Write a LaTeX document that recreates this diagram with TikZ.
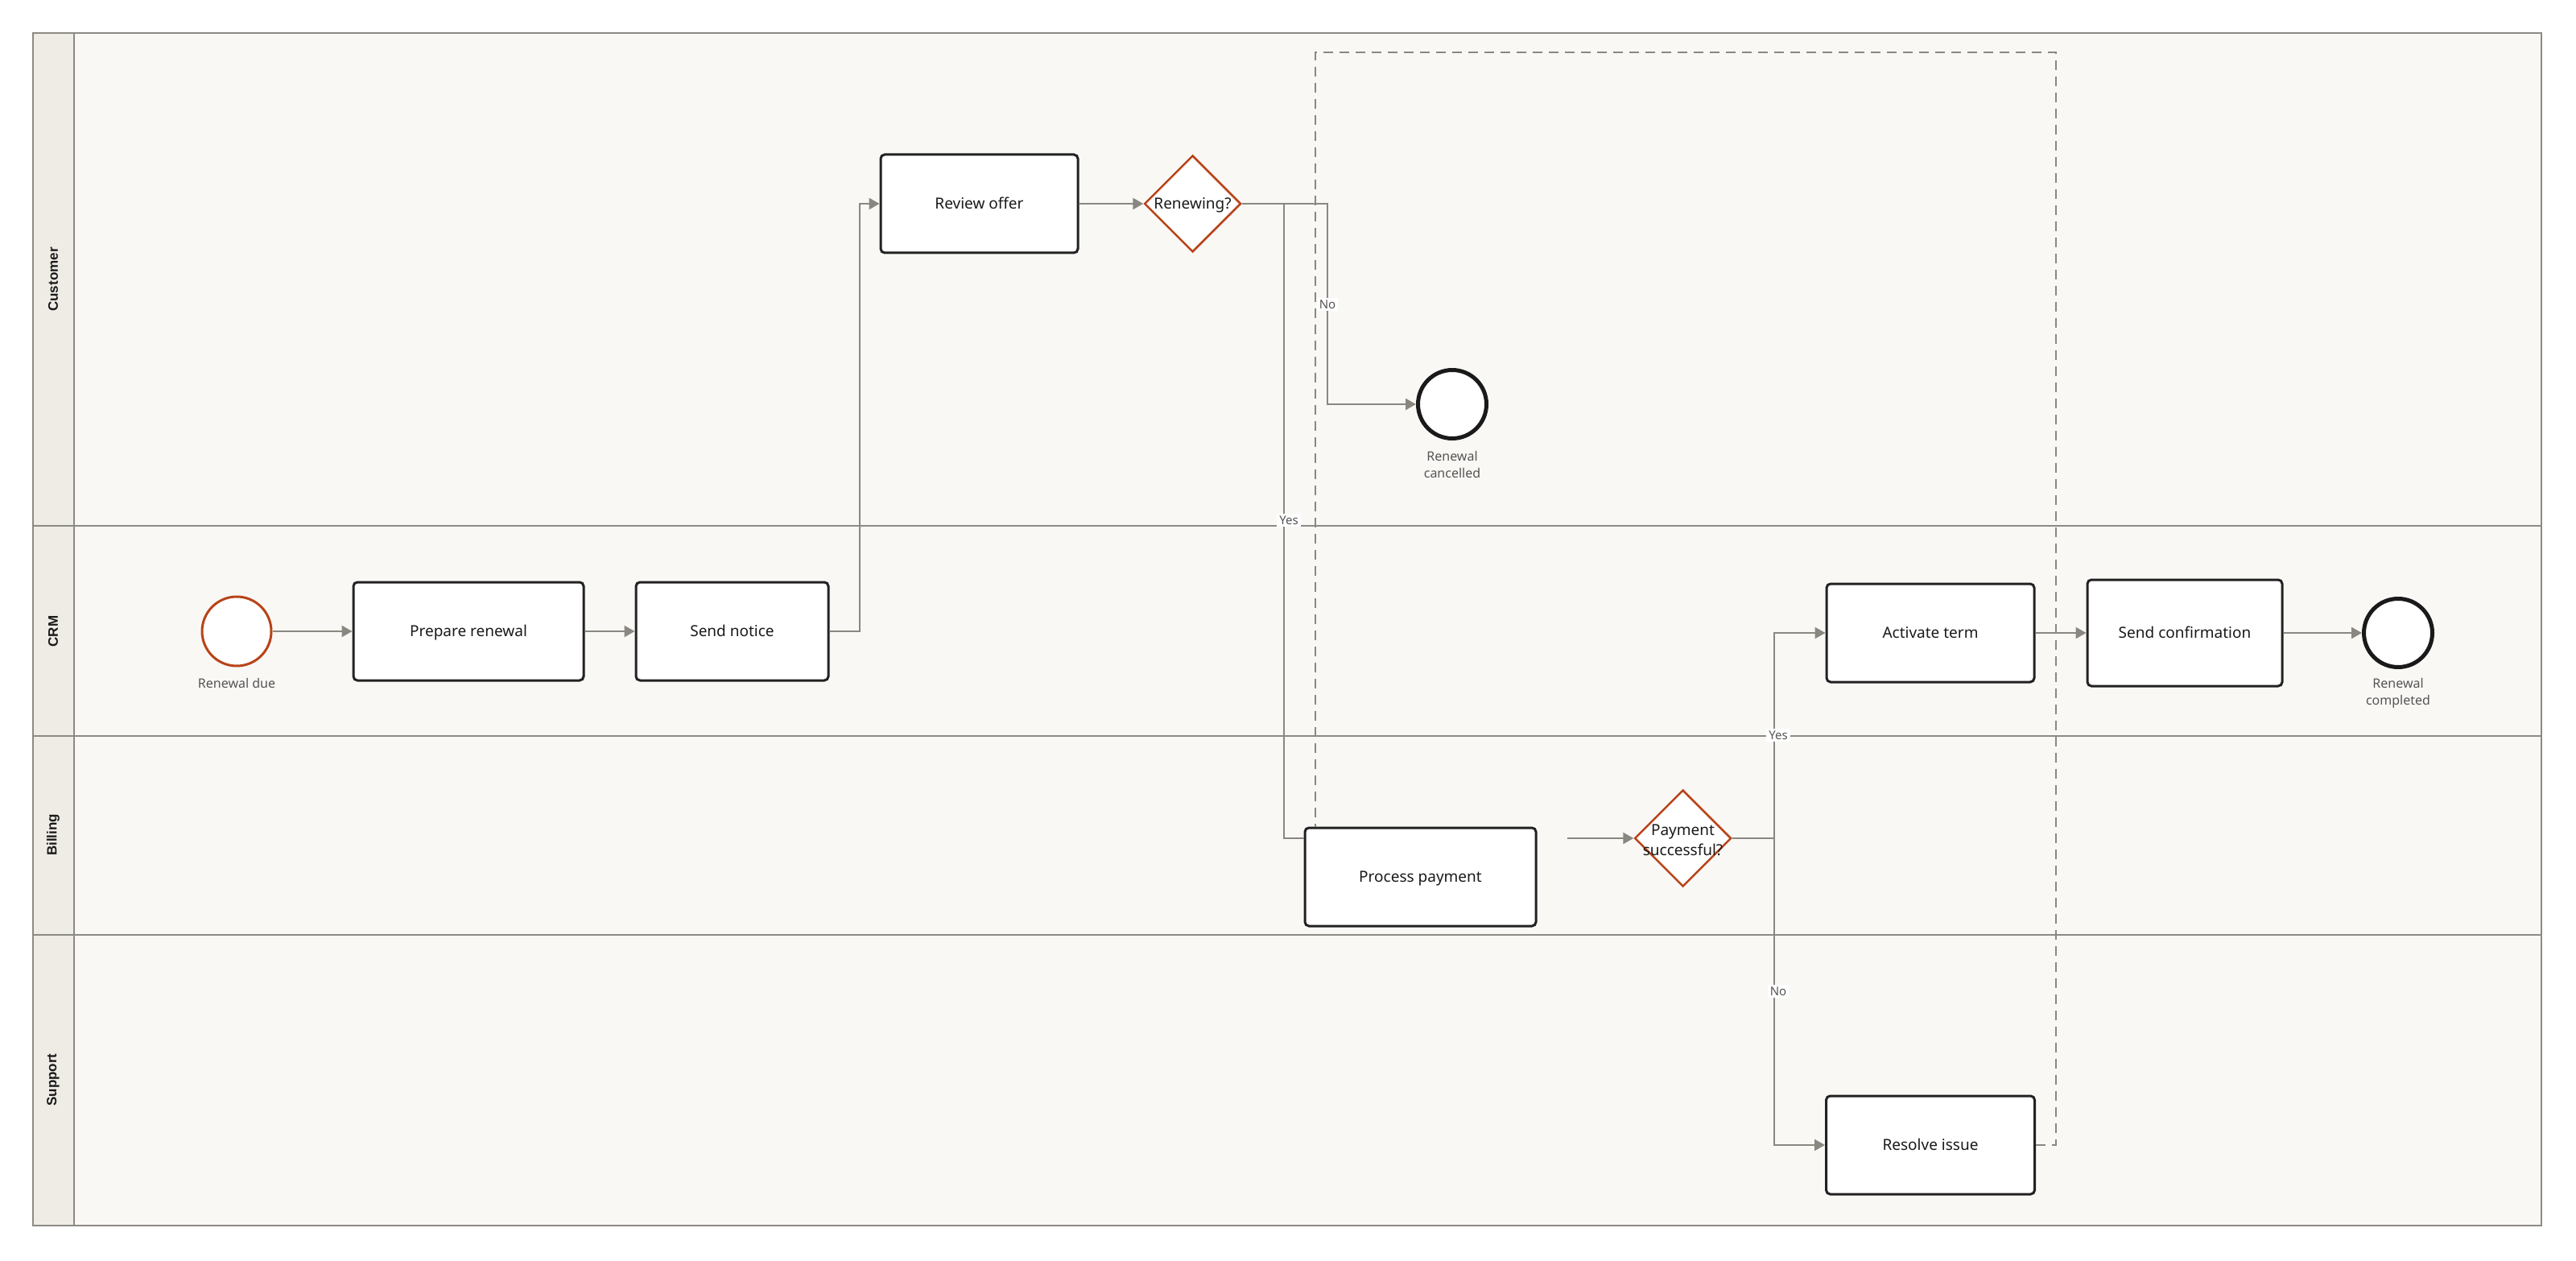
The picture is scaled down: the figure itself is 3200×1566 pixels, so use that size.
\documentclass[tikz,border=0pt]{standalone}
\usepackage{fontspec}
\setmainfont{Noto Sans}
\newfontfamily\headfont{Liberation Sans}
\usetikzlibrary{arrows.meta,shapes.geometric,calc}
\definecolor{lanefill}{HTML}{F9F8F5}
\definecolor{headfill}{HTML}{EFECE6}
\definecolor{laneline}{HTML}{8C8A84}
\definecolor{flowc}{HTML}{8A8781}
\definecolor{boxline}{HTML}{222222}
\definecolor{gatec}{HTML}{B8441A}
\definecolor{endc}{HTML}{1A1A1A}
\definecolor{labelc}{HTML}{555555}
\definecolor{textc}{HTML}{1A1A1A}
\begin{document}
\begin{tikzpicture}[x=0.5pt,y=-0.5pt,
  task/.style={draw=boxline,line width=1.5pt,fill=white,rounded corners=2.5pt,minimum width=#1,minimum height=61pt,inner sep=0pt,text height=6.8pt,text depth=0pt,font=\fontsize{9.5}{12}\selectfont,text=textc},
  gateway/.style={diamond,draw=gatec,line width=1.25pt,fill=white,minimum width=60pt,minimum height=60pt,inner sep=0pt},
  gtext/.style={font=\fontsize{9.5}{12.5}\selectfont,text=textc,align=center,inner sep=0pt},
  startev/.style={circle,draw=gatec,line width=1.5pt,fill=white,minimum size=43pt,inner sep=0pt},
  endev/.style={circle,draw=endc,line width=2.5pt,fill=white,minimum size=42.5pt,inner sep=0pt},
  flow/.style={draw=flowc,line width=1.25pt,-{Triangle[length=6.5pt,width=7pt]}},
  flowplain/.style={draw=flowc,line width=1.25pt},
  assoc/.style={draw=flowc,line width=1.1pt,dash pattern=on 6pt off 4pt},
  elabel/.style={fill=white,inner sep=1.5pt,font=\fontsize{7.5}{9}\selectfont,text=labelc},
  evlabel/.style={font=\fontsize{8}{10.5}\selectfont,text=labelc,align=center,inner sep=0pt},
  lanehead/.style={rotate=90,font=\headfont\bfseries\fontsize{8.5}{10}\selectfont,text=textc},
  laneborder/.style={draw=laneline,line width=1pt}]
\useasboundingbox (0,0) rectangle (3200,1566);
\fill[white] (0,0) rectangle (3200,1566);
% pool and lanes
\fill[lanefill] (41,41) rectangle (3157,1522);
\fill[headfill] (41,41) rectangle (92,1522);
\draw[laneborder] (41,41) rectangle (3157,1522);
\draw[laneborder] (92,41) -- (92,1522);
\draw[laneborder] (41,653) -- (3157,653);
\draw[laneborder] (41,914) -- (3157,914);
\draw[laneborder] (41,1161) -- (3157,1161);
\node[lanehead] (lcust) at (66,347) {Customer};
\node[lanehead] (lcrm) at (66,784) {CRM};
\node[lanehead] (lbill) at (66,1037) {Billing};
\node[lanehead] (lsupp) at (66,1341) {Support};
% nodes
\node[startev] (due) at (294,784) {};
\node[evlabel] (duel) at (294,848) {Renewal due};
\node[task=143pt] (prep) at (582,784) {Prepare renewal};
\node[task=119.5pt] (notice) at (909.5,784) {Send notice};
\node[task=122.5pt] (review) at (1216.5,253) {Review offer};
\node[gateway] (renew) at (1481.5,253) {};
\node[gtext] (renewt) at (1481.5,255) {Renewing?};
\node[endev] (cancel) at (1804,502) {};
\node[evlabel] (cancell) at (1804,577) {Renewal\\cancelled};
\node[task=143.5pt] (pay) at (1764.5,1089) {Process payment};
\node[gateway] (paid) at (2090.5,1041) {};
\node[gtext] (paidt) at (2090.5,1043) {Payment\\successful?};
\node[task=129pt] (act) at (2398,786) {Activate term};
\node[task=121pt,minimum height=66pt] (conf) at (2714,786) {Send confirmation};
\node[endev] (done) at (2979,786) {};
\node[evlabel] (donel) at (2979,861) {Renewal\\completed};
\node[task=129.5pt] (res) at (2398,1422) {Resolve issue};
% helper coordinates
\coordinate (ypp) at (0,1041);
\coordinate (xdash) at (1634,0);
\coordinate (payout) at (1947,1041);
% association (dashed)
\draw[assoc] (res.east) -- (2554,1422) -- (2554,65) -- (1634,65) -- (xdash |- pay.north);
% flows
\draw[flow] (due.east) -- (prep.west);
\draw[flow] (prep.east) -- (notice.west);
\draw[flow] (notice.east) -- (1068,784) |- (review.west);
\draw[flow] (review.east) -- (renew.west);
\draw[flow] (renew.east) -- (1649,253) |- (cancel.west);
\draw[flowplain] (renew.east) -- (1595,253) -- (1595,1041) -- (pay.west |- ypp);
\draw[flow] (payout) -- (paid.west);
\draw[flow] (paid.east) -- (2204,1041) |- (act.west);
\draw[flow] (paid.east) -- (2204,1041) |- (res.west);
\draw[flow] (act.east) -- (conf.west);
\draw[flow] (conf.east) -- (done.west);
% edge labels
\node[elabel] (lno1) at (1649,378) {No};
\node[elabel] (lyes1) at (1601,646) {Yes};
\node[elabel] (lyes2) at (2209,913) {Yes};
\node[elabel] (lno2) at (2209,1231) {No};
\end{tikzpicture}
\end{document}
